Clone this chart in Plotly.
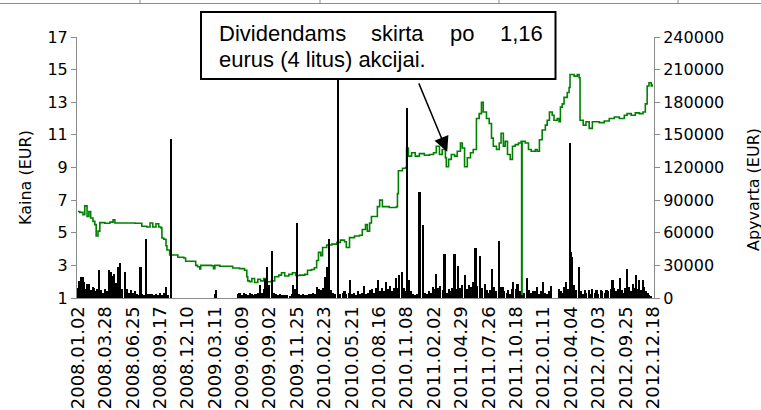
import plotly.graph_objects as go

# ---------------- data ----------------
tick_labels = ["2008.01.02", "2008.03.28", "2008.06.25", "2008.09.17", "2008.12.10",
               "2009.03.11", "2009.06.09", "2009.09.02", "2009.11.25", "2010.02.23",
               "2010.05.21", "2010.08.16", "2010.11.08", "2011.02.02", "2011.04.29",
               "2011.07.26", "2011.10.18", "2012.01.11", "2012.04.04", "2012.07.03",
               "2012.09.25", "2012.12.18"]
tick_days = [i * 60 for i in range(len(tick_labels))]  # trading-day index of each label

# price (EUR) at trading-day index
price_day = [0, 4, 11, 15, 20, 24, 28, 33, 37, 40, 44, 48, 59, 70, 77, 81, 103, 125, 140, 151,
             158, 164, 171, 177, 182, 184, 188, 193, 195, 201, 214, 219, 232, 236, 252, 258, 262,
             267, 269, 293, 297, 300, 311, 339, 354, 365, 370, 372, 376, 381, 387, 394, 400, 407,
             413, 424, 431, 440, 446, 453, 462, 470, 477, 486, 497, 503, 512, 518, 523, 527, 532,
             536, 545, 556, 567, 575, 584, 588, 595, 606, 617, 623, 630, 634, 639, 643, 650, 656,
             661, 667, 682, 698, 700, 702, 711, 718, 720, 724, 731, 739, 748, 759, 770, 779, 785,
             792, 798, 805, 807, 812, 818, 825, 831, 838, 842, 847, 853, 860, 866, 873, 879, 884,
             888, 895, 901, 906, 910, 917, 923, 927, 932, 936, 941, 947, 952, 958, 965, 971, 972,
             973, 980, 987, 993, 1002, 1006, 1011, 1017, 1024, 1028, 1033, 1039, 1043, 1050, 1054,
             1057, 1061, 1065, 1072, 1076, 1078, 1087, 1094, 1098, 1100, 1107, 1113, 1120, 1127,
             1142, 1153, 1164, 1175, 1186, 1197, 1203, 1212, 1221, 1230, 1238, 1243, 1247, 1251,
             1256, 1258]
price_eur = [6.3, 6.25, 6.1, 6.65, 6.0, 6.3, 5.9, 5.7, 5.5, 4.8, 5.1, 5.62, 5.58, 5.65, 5.8, 5.6,
             5.6, 5.58, 5.4, 5.35, 5.6, 5.35, 5.55, 5.35, 5.3, 4.68, 4.6, 4.2, 3.94, 3.64, 3.64,
             3.5, 3.45, 3.25, 3.25, 3.0, 2.92, 2.78, 3.0, 2.98, 2.8, 3.0, 2.95, 2.84, 2.8, 2.7,
             2.3, 2.05, 2.0, 2.2, 1.95, 2.15, 2.05, 2.2, 2.0, 2.05, 2.3, 2.4, 2.55, 2.35, 2.45,
             2.55, 2.38, 2.4, 2.45, 2.7, 2.75, 2.85, 3.3, 3.8, 3.6, 4.1, 4.25, 4.3, 4.4, 4.55,
             4.45, 4.1, 4.7, 4.8, 4.85, 5.2, 5.5, 5.1, 5.6, 6.0, 6.0, 6.6, 7.0, 6.6, 6.55, 6.6,
             7.4, 8.8, 8.95, 9.0, 10.2, 9.7, 9.9, 9.7, 9.85, 9.75, 9.8, 9.9, 10.3, 9.8, 10.1, 9.6,
             9.05, 9.5, 9.8, 9.7, 10.0, 10.5, 10.2, 9.05, 9.6, 9.9, 10.1, 12.0, 12.3, 13.0, 12.4,
             12.0, 11.7, 10.8, 10.3, 10.1, 10.5, 11.1, 10.3, 10.6, 9.8, 9.5, 10.3, 10.4, 10.5,
             10.6, 1.0, 10.6, 10.5, 10.1, 10.0, 10.1, 10.0, 10.7, 11.3, 11.6, 11.9, 12.4, 12.2,
             11.9, 12.0, 11.8, 12.7, 12.9, 13.3, 13.6, 13.9, 14.7, 14.6, 14.7, 14.5, 11.9, 11.6,
             11.8, 11.4, 11.8, 11.75, 11.85, 12.0, 12.1, 12.0, 12.2, 12.3, 12.2, 12.35, 12.3,
             12.4, 12.9, 14.0, 14.2, 14.0, 14.1]

# turnover (EUR) at trading-day index
turnover_day = [0, 2, 7, 10, 13, 18, 21, 24, 28, 33, 36, 39, 43, 46, 50, 55, 59, 63, 68, 72, 75,
                79, 83, 88, 93, 97, 103, 107, 112, 116, 120, 125, 129, 135, 137, 141, 144, 149,
                153, 158, 162, 166, 171, 175, 179, 184, 188, 193, 197, 203, 301, 303,
                350, 354, 359, 363, 368, 372, 376, 381, 385, 389, 394, 398, 403, 407, 410, 415,
                419, 426, 430, 433, 438, 442, 446, 451, 455, 459, 464, 468, 471, 475, 480, 484,
                489, 493, 498, 502, 506, 511, 515, 520, 524, 528, 533, 537, 542, 545, 551, 555,
                559, 563, 570, 575, 580, 584, 588, 593, 596, 600, 605, 609, 614, 618, 622, 626,
                631, 635, 640, 644, 649, 653, 657, 662, 666, 670, 674, 679, 683, 688, 692, 697,
                701, 704, 709, 714, 718, 721, 725, 730, 734, 738, 743, 748, 750, 755, 760, 764,
                769, 773, 777, 781, 785, 790, 794, 799, 803, 808, 813, 817, 820, 825, 829, 833,
                838, 842, 848, 852, 856, 861, 865, 871, 875, 881, 885, 891, 895, 900, 903, 908,
                911, 915, 922, 925, 930, 934, 939, 943, 947, 952, 954, 959, 963, 968, 973, 977,
                983, 988, 992, 996, 1001, 1005, 1009, 1014, 1018, 1023, 1027, 1031, 1036, 1053,
                1058, 1062, 1065, 1069, 1073, 1078, 1080, 1083, 1087, 1092, 1097, 1101, 1106,
                1110, 1114, 1119, 1123, 1127, 1132, 1136, 1140, 1145, 1149, 1154, 1158, 1162,
                1167, 1171, 1175, 1179, 1184, 1187, 1191, 1196, 1199, 1203, 1207, 1212, 1215,
                1219, 1223, 1227, 1230, 1234, 1237, 1241, 1245, 1248, 1251, 1256]
turnover_eur = [9000, 16000, 19600, 19000, 15000, 8000, 12600, 12600, 7000, 10000, 9000, 6000,
                8000, 25700, 7000, 5000, 8000, 6000, 25700, 24000, 20000, 22000, 13600, 28200,
                31900, 8000, 24000, 8000, 5000, 7000, 5000, 6000, 4000, 3000, 28500, 4000, 3000,
                54000, 4000, 3500, 4000, 3000, 4000, 3000, 4500, 3000, 5000, 9800, 3000, 146200,
                4000, 7400,
                4000, 4500, 3000, 4500, 4000, 3000, 4500, 3500, 2500, 3500, 5000, 12000, 5000,
                8000, 17500, 28800, 12000, 43000, 5000, 4000, 3000, 3500, 2500, 3000, 2500, 3000,
                2000, 4000, 12000, 8000, 68700, 4000, 3000, 3500, 2500, 3000, 4000, 3500, 5000,
                4000, 10000, 8000, 7000, 9000, 19000, 28800, 54000, 7000, 5000, 4000, 235000,
                4000, 5000, 6000, 4000, 5000, 16500, 4000, 5000, 3000, 6000, 4000, 5000, 11000,
                4000, 5000, 7000, 8300, 5000, 9000, 16500, 6000, 9000, 6000, 15000, 8000, 11000,
                6000, 9000, 18100, 9000, 21000, 24000, 9000, 6000, 175000, 16500, 6000, 4000,
                3000, 3500, 97700, 97700, 67100, 5000, 4000, 6000, 5000, 10000, 8000, 22000, 9000,
                11000, 7000, 40500, 5000, 8000, 6000, 9000, 40500, 8000, 29400, 9000, 12000,
                21000, 8000, 12000, 10000, 15000, 45700, 11000, 38600, 9000, 13000, 7000, 5000,
                7000, 26400, 10000, 6000, 52700, 10000, 10000, 6000, 5000, 7000, 4000, 8000,
                15000, 8000, 13000, 6000, 3000, 5000, 18000, 7000, 5000, 6000, 6000, 10000, 4000,
                6000, 15000, 5000, 4000, 6000, 11000, 8000, 6000, 5000, 10000, 15000, 8000,
                142200, 42600, 38000, 12000, 7000, 28800, 6000, 4000, 7400, 5000, 7000, 4000,
                8000, 5000, 7000, 4000, 7400, 6000, 5000, 7000, 6000, 8000, 16500, 9000, 6000,
                8000, 18000, 7000, 5000, 9000, 26400, 10000, 6000, 13000, 9000, 21000, 8000,
                16500, 7000, 16500, 10000, 6000, 5000, 3000, 2000]

left_ticks = [1, 3, 5, 7, 9, 11, 13, 15, 17]
right_ticks = [0, 30000, 60000, 90000, 120000, 150000, 180000, 210000, 240000]

note_line1 = ["Dividendams", "skirta", "po", "1,16"]
note_line2 = "eurus (4 litus) akcijai."
arrow_day, arrow_price = 809, 9.96

# ---------------- figure ----------------
AX = "#8c8c8c"
TICKFONT = dict(family="DejaVu Sans", size=16, color="black")

fig = go.Figure()
fig.add_trace(go.Scatter(x=price_day, y=price_eur, mode="lines", line=dict(color="#008000", width=1.6, shape="hv"),
                         yaxis="y", showlegend=False, hoverinfo="skip"))
fig.add_trace(go.Bar(x=turnover_day, y=turnover_eur, width=4.6, marker=dict(color="black", line=dict(width=0)),
                     yaxis="y2", showlegend=False, hoverinfo="skip"))

fig.update_layout(
    width=761, height=410,
    margin=dict(l=77, r=107, t=37, b=112, autoexpand=False),
    paper_bgcolor="white", plot_bgcolor="white",
    bargap=0,
    xaxis=dict(range=[-2, 1262], tickmode="array", tickvals=tick_days, ticktext=tick_labels,
               tickangle=-90, tickfont=dict(family="DejaVu Sans", size=18, color="black"),
               showgrid=False, zeroline=False, showline=True, linecolor=AX, linewidth=1,
               ticks="", automargin=False),
    yaxis=dict(range=[1, 17], tickmode="array", tickvals=left_ticks, showgrid=False, zeroline=False,
               showline=True, linecolor=AX, linewidth=1, ticks="outside", ticklen=5, tickcolor=AX,
               tickfont=TICKFONT, automargin=False),
    yaxis2=dict(range=[0, 240000], tickmode="array", tickvals=right_ticks, tickformat="d",
                overlaying="y", side="right", showgrid=False, zeroline=False,
                showline=True, linecolor=AX, linewidth=1, ticks="outside", ticklen=5, tickcolor=AX,
                tickfont=TICKFONT, automargin=False),
)

def px_to_px(xp):
    return (xp - 77) / 577.0

def py_to_py(yp):
    return (298 - yp) / 261.0

shapes = []
# thin grey frame fragment at top of the image
shapes.append(dict(type="line", xref="paper", yref="paper", x0=px_to_px(0), x1=px_to_px(761),
                   y0=py_to_py(3.5), y1=py_to_py(3.5), line=dict(color="#8c8c8c", width=1)))
for sx in [140, 320, 499, 678]:
    shapes.append(dict(type="line", xref="paper", yref="paper", x0=px_to_px(sx), x1=px_to_px(sx),
                       y0=py_to_py(0), y1=py_to_py(3.5), line=dict(color="#8c8c8c", width=1)))
# note box
shapes.append(dict(type="rect", xref="paper", yref="paper", x0=px_to_px(201), x1=px_to_px(555.5),
                   y0=py_to_py(79), y1=py_to_py(12), fillcolor="white", line=dict(color="black", width=2),
                   layer="above"))
fig.update_layout(shapes=shapes)

NOTEFONT = dict(family="Liberation Sans, Arial", size=22, color="black")
word_x = [216.5, 369.4, 447.9, 498.3]
for w, wx in zip(note_line1, word_x):
    fig.add_annotation(text=w, xref="paper", yref="paper", x=px_to_px(wx), y=py_to_py(34),
                       xanchor="left", yanchor="middle", showarrow=False, font=NOTEFONT)
fig.add_annotation(text=note_line2, xref="paper", yref="paper", x=px_to_px(216.5), y=py_to_py(59.5),
                   xanchor="left", yanchor="middle", showarrow=False, font=NOTEFONT)
# arrow
fig.add_annotation(x=arrow_day, y=arrow_price, xref="x", yref="y", text="", showarrow=True,
                   ax=-29, ay=-70, arrowhead=2, arrowsize=2, arrowwidth=1.5, arrowcolor="black")

# axis titles
TITLEFONT = dict(family="DejaVu Sans", size=16, color="black")
fig.add_annotation(text="Kaina (EUR)", xref="paper", yref="paper", x=px_to_px(25), y=py_to_py(178),
                   textangle=-90, showarrow=False, font=TITLEFONT, xanchor="center", yanchor="middle")
fig.add_annotation(text="Apyvarta (EUR)", xref="paper", yref="paper", x=px_to_px(753), y=py_to_py(190),
                   textangle=-90, showarrow=False, font=TITLEFONT, xanchor="center", yanchor="middle")

fig.write_html("out.html", config={"displayModeBar": False},
               post_script="document.body.style.margin='0';document.body.style.overflow='hidden';")
